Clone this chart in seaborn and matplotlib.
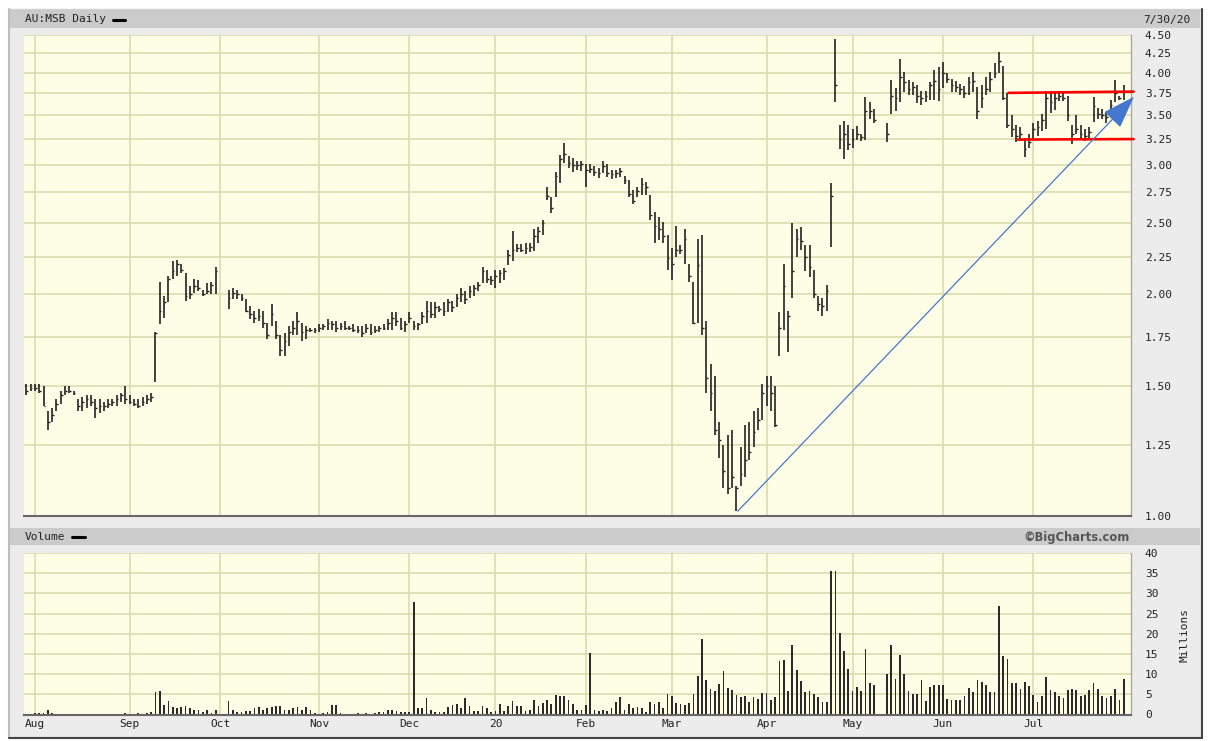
import numpy as np
import pandas as pd
import seaborn as sns
import matplotlib.pyplot as plt
from matplotlib.patches import Rectangle
from matplotlib.lines import Line2D
from matplotlib.ticker import FixedLocator, NullLocator, FixedFormatter

sns.set_theme(style='white')
plt.rcParams['font.family'] = ['DejaVu Sans Mono', 'DejaVu Sans']

nan = np.nan

# daily bars, 30 Jul 2019 .. 30 Jul 2020 (ASX trading days), one row per month in the source
high = [
    1.51, 1.51, 1.51, 1.51, 1.50, 1.39, 1.40, 1.44, 1.48, 1.50, 1.50, 1.48, 1.44, 1.45, 1.46, 1.46, 1.44, 1.44, 1.43, 1.44, 1.44, 1.46, 1.47, 1.50,
    1.46, 1.44, 1.44, 1.45, 1.46, 1.47, 1.78, 2.08, 1.99, 2.12, 2.22, 2.23, 2.20, 2.14, 2.05, 2.10, 2.09, 2.03, 2.07, 2.08, 2.18,
    nan, nan, 2.03, 2.04, 2.03, 2.00, 1.97, 1.93, 1.90, 1.91, 1.90, 1.83, 1.94, 1.84, 1.76, 1.77, 1.81, 1.84, 1.89, 1.83, 1.81, 1.80, 1.80,
    1.82, 1.82, 1.85, 1.84, 1.84, 1.83, 1.84, 1.81, 1.82, 1.81, 1.81, 1.82, 1.82, 1.81, 1.81, 1.82, 1.85, 1.89, 1.89, 1.86, 1.84,
    1.89, 1.84, 1.83, 1.89, 1.96, 1.95, 1.95, 1.93, 1.95, 1.97, 1.96, 2.00, 2.04, 2.02, 2.05, 2.06, 2.08, 2.18, 2.16, 2.12,
    2.16, 2.16, 2.17, 2.30, 2.44, 2.34, 2.34, 2.35, 2.35, 2.45, 2.47, 2.52, 2.80, 2.71, 2.93, 3.09, 3.21, 3.08, 3.06, 3.03, 3.03,
    3.01, 3.01, 2.99, 2.97, 3.03, 3.01, 2.95, 2.95, 2.97, 2.90, 2.86, 2.77, 2.80, 2.88, 2.84, 2.73, 2.59, 2.55, 2.51, 2.41,
    2.31, 2.48, 2.33, 2.45, 2.20, 2.08, 2.38, 2.41, 1.84, 1.61, 1.55, 1.34, 1.25, 1.29, 1.31, 1.10, 1.24, 1.33, 1.34, 1.39, 1.40, 1.51,
    1.55, 1.55, 1.50, 1.89, 2.20, 1.90, 2.50, 2.45, 2.47, 2.33, 2.33, 2.16, 1.99, 1.98, 2.06, 2.83, 4.44, 3.40, 3.44, 3.40,
    3.35, 3.39, 3.30, 3.71, 3.65, 3.57, nan, nan, 3.42, 3.91, 3.81, 4.18, 4.01, 3.91, 3.88, 3.85, 3.78, 3.78, 3.89, 4.03, 4.07,
    4.14, 3.99, 3.92, 3.90, 3.86, 3.84, 3.95, 4.01, 3.83, 3.85, 3.95, 4.01, 4.12, 4.27, 4.08, 3.75, 3.50, 3.40, 3.38, 3.26, 3.30,
    3.42, 3.44, 3.52, 3.78, 3.78, 3.75, 3.78, 3.75, 3.72, 3.40, 3.50, 3.40, 3.35, 3.38, 3.71, 3.58, 3.57, 3.54, 3.67, 3.91, 3.72, 3.85,
]
low = [
    1.46, 1.48, 1.48, 1.47, 1.41, 1.31, 1.34, 1.39, 1.42, 1.46, 1.47, 1.46, 1.39, 1.39, 1.40, 1.41, 1.36, 1.38, 1.39, 1.40, 1.41, 1.41, 1.43, 1.42,
    1.42, 1.41, 1.40, 1.41, 1.42, 1.43, 1.52, 1.82, 1.86, 1.95, 2.10, 2.12, 2.14, 1.96, 1.97, 2.01, 2.02, 1.99, 2.00, 2.00, 2.00,
    nan, nan, 1.91, 1.97, 1.97, 1.96, 1.89, 1.85, 1.83, 1.84, 1.80, 1.74, 1.81, 1.74, 1.65, 1.65, 1.70, 1.76, 1.76, 1.73, 1.74, 1.78, 1.77,
    1.78, 1.79, 1.79, 1.79, 1.78, 1.79, 1.79, 1.79, 1.78, 1.77, 1.75, 1.77, 1.76, 1.77, 1.78, 1.79, 1.79, 1.79, 1.81, 1.79, 1.78,
    1.83, 1.79, 1.79, 1.82, 1.83, 1.86, 1.86, 1.89, 1.87, 1.89, 1.89, 1.92, 1.95, 1.94, 1.98, 1.99, 2.02, 2.07, 2.07, 2.06,
    2.04, 2.07, 2.09, 2.19, 2.22, 2.28, 2.28, 2.27, 2.28, 2.29, 2.35, 2.41, 2.69, 2.58, 2.71, 2.83, 3.02, 2.97, 2.93, 2.95, 2.94,
    2.80, 2.92, 2.90, 2.88, 2.92, 2.89, 2.87, 2.88, 2.89, 2.82, 2.71, 2.65, 2.71, 2.73, 2.73, 2.52, 2.35, 2.37, 2.35, 2.16,
    2.09, 2.25, 2.27, 2.20, 2.08, 1.82, 1.83, 1.76, 1.47, 1.39, 1.29, 1.20, 1.09, 1.07, 1.09, 1.015, 1.10, 1.13, 1.19, 1.24, 1.31, 1.35,
    1.41, 1.39, 1.32, 1.65, 1.79, 1.67, 1.98, 2.25, 2.30, 2.15, 2.11, 1.98, 1.90, 1.87, 1.90, 2.32, 3.65, 3.15, 3.05, 3.14,
    3.16, 3.24, 3.23, 3.24, 3.46, 3.42, nan, nan, 3.22, 3.52, 3.55, 3.65, 3.76, 3.73, 3.73, 3.64, 3.62, 3.65, 3.67, 3.67, 3.66,
    3.81, 3.87, 3.77, 3.77, 3.73, 3.69, 3.73, 3.76, 3.46, 3.58, 3.73, 3.76, 3.93, 3.99, 3.67, 3.36, 3.27, 3.22, 3.23, 3.07, 3.16,
    3.24, 3.28, 3.33, 3.35, 3.53, 3.56, 3.66, 3.66, 3.44, 3.20, 3.30, 3.24, 3.23, 3.24, 3.43, 3.46, 3.46, 3.42, 3.55, 3.65, 3.67, 3.67,
]
close = [
    1.48, 1.49, 1.49, 1.48, 1.41, 1.34, 1.37, 1.42, 1.46, 1.48, 1.48, 1.47, 1.41, 1.43, 1.44, 1.43, 1.40, 1.41, 1.41, 1.42, 1.43, 1.44, 1.46, 1.44,
    1.43, 1.42, 1.41, 1.43, 1.44, 1.45, 1.77, 1.90, 1.95, 2.10, 2.15, 2.20, 2.16, 1.99, 2.00, 2.05, 2.04, 2.00, 2.02, 2.06, 2.15,
    nan, nan, 1.98, 2.01, 2.00, 1.98, 1.90, 1.88, 1.86, 1.87, 1.83, 1.76, 1.88, 1.76, 1.68, 1.73, 1.78, 1.80, 1.84, 1.78, 1.79, 1.79, 1.79,
    1.80, 1.81, 1.83, 1.82, 1.80, 1.81, 1.80, 1.80, 1.79, 1.79, 1.77, 1.80, 1.78, 1.79, 1.80, 1.80, 1.83, 1.86, 1.84, 1.80, 1.82,
    1.86, 1.81, 1.82, 1.87, 1.90, 1.88, 1.92, 1.91, 1.90, 1.95, 1.92, 1.98, 2.00, 1.97, 2.02, 2.04, 2.06, 2.15, 2.10, 2.09,
    2.12, 2.14, 2.15, 2.26, 2.30, 2.31, 2.30, 2.31, 2.32, 2.40, 2.44, 2.50, 2.72, 2.62, 2.90, 3.05, 3.10, 3.02, 3.00, 3.00, 3.01,
    2.95, 2.96, 2.93, 2.92, 2.99, 2.92, 2.91, 2.92, 2.94, 2.86, 2.74, 2.68, 2.76, 2.82, 2.80, 2.56, 2.48, 2.45, 2.40, 2.24,
    2.20, 2.30, 2.30, 2.38, 2.12, 1.83, 2.19, 1.80, 1.54, 1.47, 1.31, 1.27, 1.15, 1.09, 1.13, 1.09, 1.14, 1.19, 1.22, 1.30, 1.35, 1.47,
    1.50, 1.47, 1.33, 1.80, 2.05, 1.87, 2.15, 2.38, 2.36, 2.25, 2.18, 2.00, 1.94, 1.93, 2.02, 2.72, 3.85, 3.25, 3.30, 3.20,
    3.25, 3.30, 3.27, 3.55, 3.55, 3.45, nan, nan, 3.30, 3.72, 3.70, 3.95, 3.88, 3.80, 3.83, 3.72, 3.70, 3.72, 3.85, 3.90, 3.80,
    4.00, 3.92, 3.85, 3.82, 3.80, 3.75, 3.88, 3.90, 3.55, 3.70, 3.80, 3.92, 4.00, 4.15, 3.70, 3.40, 3.35, 3.28, 3.30, 3.15, 3.22,
    3.35, 3.38, 3.45, 3.70, 3.65, 3.70, 3.72, 3.70, 3.50, 3.30, 3.35, 3.30, 3.28, 3.32, 3.60, 3.52, 3.50, 3.48, 3.62, 3.75, 3.70, 3.78,
]
# volume in millions
volume = [
    0.2, 0.2, 0.3, 0.3, 0.4, 1.2, 0.3, 0.2, 0.2, 0.2, 0.1, 0.1, 0.1, 0.2, 0.2, 0.1, 0.2, 0.2, 0.1, 0.1, 0.1, 0.1, 0.1, 0.3,
    0.1, 0.2, 0.3, 0.2, 0.3, 0.5, 5.5, 5.9, 2.3, 3.3, 1.8, 1.6, 1.8, 2.0, 1.5, 1.0, 1.2, 0.5, 1.2, 0.3, 1.0,
    nan, nan, 3.4, 1.2, 0.5, 0.5, 0.8, 0.8, 1.5, 1.8, 1.2, 1.5, 1.8, 2.0, 2.0, 1.0, 1.0, 1.5, 1.8, 1.0, 1.8, 1.0, 0.3,
    0.2, 0.3, 0.7, 2.3, 2.3, 0.3, 0.2, 0.2, 0.1, 0.3, 0.2, 0.3, 0.1, 0.3, 0.5, 0.6, 1.2, 1.2, 0.8, 0.5, 0.5,
    0.5, 27.9, 1.5, 1.5, 4.2, 1.2, 0.5, 0.5, 0.5, 1.8, 2.3, 2.6, 1.5, 4.2, 2.0, 0.8, 0.8, 2.0, 1.5, 0.6,
    0.8, 2.6, 0.8, 2.0, 3.4, 2.0, 2.0, 0.8, 1.0, 3.5, 2.0, 2.8, 3.5, 2.5, 4.8, 4.7, 4.7, 3.5, 2.5, 1.2, 1.2,
    2.3, 15.2, 1.2, 0.8, 1.2, 0.8, 1.5, 3.0, 4.3, 1.0, 2.5, 1.5, 1.8, 1.5, 0.5, 3.0, 2.5, 3.0, 1.5, 5.0,
    4.5, 2.8, 2.6, 2.3, 2.8, 5.2, 9.5, 18.7, 8.5, 6.3, 5.8, 7.5, 10.8, 6.6, 6.0, 4.8, 4.3, 4.6, 3.2, 4.3, 3.8, 5.3,
    5.3, 3.6, 4.3, 13.2, 13.5, 5.7, 17.3, 11.1, 8.2, 5.6, 5.8, 5.1, 4.3, 3.1, 3.1, 35.5, 35.5, 20.3, 15.7, 11.2,
    5.8, 6.9, 5.8, 16.1, 7.75, 7.2, nan, nan, 10.0, 17.1, 8.8, 14.8, 10.0, 5.7, 5.2, 5.2, 8.6, 3.3, 6.75, 7.3, 7.3,
    7.3, 3.75, 3.7, 3.7, 3.7, 4.6, 6.6, 5.6, 8.6, 8.0, 7.3, 5.5, 5.5, 26.75, 14.6, 13.75, 7.8, 7.8, 6.3, 8.0, 7.1,
    4.8, 3.1, 4.6, 9.4, 6.0, 5.5, 4.7, 4.1, 6.0, 6.3, 6.0, 4.7, 4.9, 6.0, 7.75, 6.3, 4.6, 4.1, 4.7, 6.25, 3.6, 8.75,
]

holidays = ['2019-12-25', '2019-12-26', '2020-01-01', '2020-01-27',
            '2020-04-10', '2020-04-13', '2020-06-08']
month_labels = ['Aug', 'Sep', 'Oct', 'Nov', 'Dec', '20', 'Feb', 'Mar', 'Apr', 'May', 'Jun', 'Jul']
price_ticks = [1.00, 1.25, 1.50, 1.75, 2.00, 2.25, 2.50, 2.75, 3.00, 3.25, 3.50, 3.75, 4.00, 4.25, 4.50]
vol_ticks = [0, 5, 10, 15, 20, 25, 30, 35, 40]

days = pd.bdate_range('2019-07-30', '2020-07-30')
days = days[~days.isin(pd.to_datetime(holidays))]
df = pd.DataFrame({'date': days, 'high': high, 'low': low, 'close': close, 'volume': volume})
df['x'] = np.arange(len(df))
month_pos = df.groupby(df['date'].dt.to_period('M'))['x'].first().iloc[1:].values

W, H = 1211, 741
def fx(px):
    return px / W
def fy(py):
    return 1 - py / H

bg = '#fefee6'
grid_c = '#d9d9ab'
ink = '#222222'

fig = plt.figure(figsize=(W / 100, H / 100), dpi=100, facecolor='white')

# chart frame and header bands
fig.add_artist(Rectangle((fx(9), fy(738)), fx(1201) - fx(9), fy(9) - fy(738),
                         transform=fig.transFigure, facecolor='#ececec', edgecolor='none', zorder=-5))
for y0, y1 in [(10, 28), (528, 545)]:
    fig.add_artist(Rectangle((fx(10), fy(y1)), fx(1200) - fx(10), fy(y0) - fy(y1),
                             transform=fig.transFigure, facecolor='#cbcbcb', edgecolor='none', zorder=-4))
fig.add_artist(Line2D([fx(8.5), fx(8.5)], [fy(9), fy(738)], color='#bdbdbd', lw=1.5))
fig.add_artist(Line2D([fx(8.5), fx(1201)], [fy(9), fy(9)], color='#d0d0d0', lw=1))
fig.add_artist(Line2D([fx(1201.5), fx(1201.5)], [fy(9), fy(738)], color='#444444', lw=1.5))
fig.add_artist(Line2D([fx(8.5), fx(1201.5)], [fy(737.5), fy(737.5)], color='#444444', lw=1.5))

ax = fig.add_axes([fx(24), fy(516), fx(1131) - fx(24), fy(35) - fy(516)])
axv = fig.add_axes([fx(24), fy(714.5), fx(1131) - fx(24), fy(553) - fy(714.5)])

for a in (ax, axv):
    a.set_facecolor(bg)
    for s in ['top', 'left']:
        a.spines[s].set_visible(False)
    a.spines['right'].set_color('#a8a8a8')
    a.spines['right'].set_linewidth(1)
    a.spines['bottom'].set_color('#666666')
    a.spines['bottom'].set_linewidth(1.5)
    a.set_axisbelow(True)

# price bars
bars = df.dropna(subset=['high'])
ax.vlines(bars['x'], bars['low'], bars['high'], color=ink, lw=1.2, zorder=3)
ax.hlines(bars['close'], bars['x'], bars['x'] + 0.4, color=ink, lw=1.0, zorder=3)
ax.set_yscale('log')
ax.set_ylim(1.0, 4.5)
ax.yaxis.set_major_locator(FixedLocator(price_ticks))
ax.yaxis.set_major_formatter(FixedFormatter([f'{t:.2f}' for t in price_ticks]))
ax.yaxis.set_minor_locator(NullLocator())
ax.yaxis.tick_right()
ax.set_xlim(-0.55, 256.7)
ax.set_xticks(month_pos)
ax.set_xticklabels([])
ax.tick_params(axis='both', length=0)
ax.tick_params(axis='y', pad=10, labelsize=8, labelcolor=ink)
ax.grid(True, color=grid_c, lw=1.1)

# trend annotations
ax.plot([228.2, 257.3], [3.755, 3.77], color='#ff0000', lw=1.9, clip_on=False, zorder=5)
ax.plot([230.4, 257.3], [3.245, 3.25], color='#ff0000', lw=1.9, clip_on=False, zorder=5)
ax.annotate('', xy=(257.4, 3.71), xytext=(165.3, 1.015),
            arrowprops=dict(arrowstyle='-|>,head_length=1.3,head_width=0.45', color='#4677d0',
                            lw=0.9, mutation_scale=16, shrinkA=0, shrinkB=0),
            annotation_clip=False, zorder=6)

# volume
vol = df.dropna(subset=['volume'])
sns.barplot(data=vol, x='x', y='volume', native_scale=True, width=0.4, color='#2a2a2a',
            saturation=1, errorbar=None, linewidth=0, ax=axv)
axv.set_xlim(-0.55, 256.7)
axv.set_ylim(0, 40)
axv.set_xlabel('')
axv.set_ylabel('')
axv.yaxis.tick_right()
axv.set_yticks(vol_ticks)
axv.set_yticklabels([str(t) for t in vol_ticks])
axv.set_xticks(month_pos)
axv.set_xticklabels(month_labels)
axv.tick_params(axis='both', length=0)
axv.tick_params(axis='y', pad=10, labelsize=8, labelcolor=ink)
axv.tick_params(axis='x', pad=3, labelsize=8, labelcolor=ink)
axv.grid(True, color=grid_c, lw=1.1)

# header texts
fig.text(fx(25), fy(19.5), 'AU:MSB Daily', ha='left', va='center', fontsize=8, color=ink)
fig.add_artist(Line2D([fx(113), fx(125)], [fy(20), fy(20)], color='black', lw=2.2))
fig.text(fx(1143), fy(19.5), '7/30/20', ha='left', va='center', fontsize=8, color=ink)
fig.text(fx(25), fy(537), 'Volume', ha='left', va='center', fontsize=8, color=ink)
fig.add_artist(Line2D([fx(72), fx(85)], [fy(537), fy(537)], color='black', lw=2.2))
fig.text(fx(1130), fy(537), '©BigCharts.com', ha='right', va='center', fontsize=8.3,
         fontweight='bold', color='#555555', family=['DejaVu Sans'])
fig.text(fx(1184), fy(635), 'Millions', ha='center', va='center', rotation=90, fontsize=8, color=ink)

fig.savefig('out.png', dpi=100, facecolor='white')
